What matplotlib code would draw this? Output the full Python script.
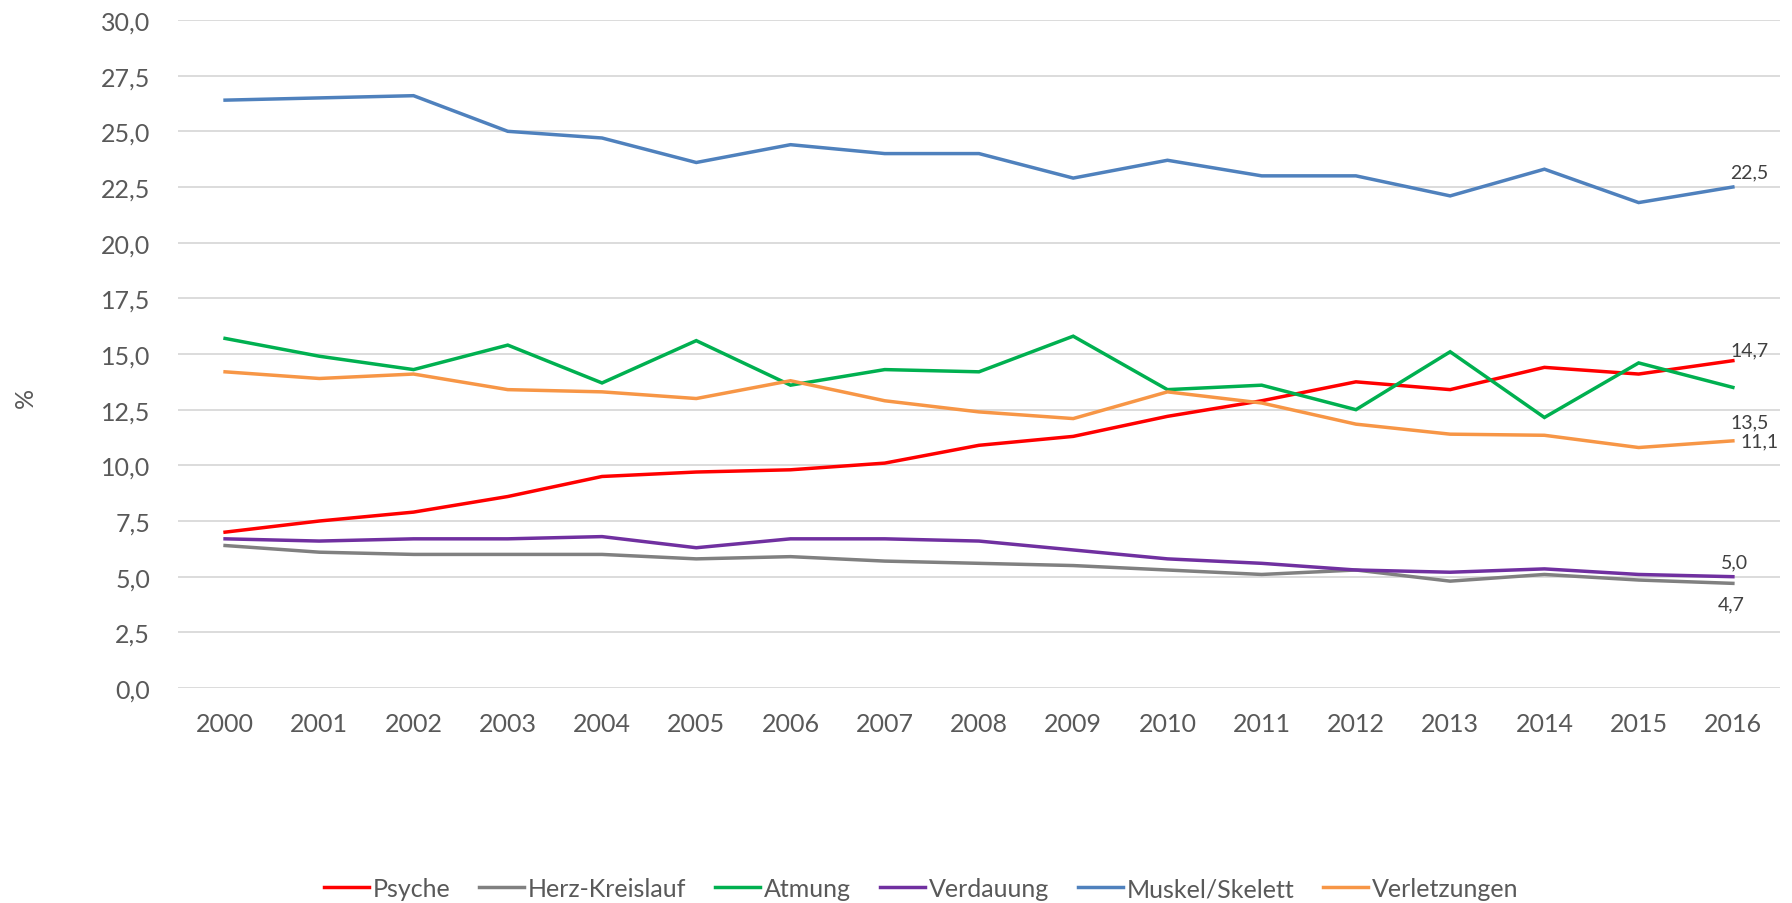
import matplotlib.pyplot as plt

years = [str(y) for y in range(2000, 2017)]
psyche = [7.0, 7.5, 7.9, 8.6, 9.5, 9.7, 9.8, 10.1, 10.9, 11.3, 12.2, 12.9, 13.75, 13.4, 14.4, 14.1, 14.7]
herz = [6.4, 6.1, 6.0, 6.0, 6.0, 5.8, 5.9, 5.7, 5.6, 5.5, 5.3, 5.1, 5.3, 4.8, 5.1, 4.85, 4.7]
atmung = [15.7, 14.9, 14.3, 15.4, 13.7, 15.6, 13.6, 14.3, 14.2, 15.8, 13.4, 13.6, 12.5, 15.1, 12.15, 14.6, 13.5]
verdauung = [6.7, 6.6, 6.7, 6.7, 6.8, 6.3, 6.7, 6.7, 6.6, 6.2, 5.8, 5.6, 5.3, 5.2, 5.35, 5.1, 5.0]
muskel = [26.4, 26.5, 26.6, 25.0, 24.7, 23.6, 24.4, 24.0, 24.0, 22.9, 23.7, 23.0, 23.0, 22.1, 23.3, 21.8, 22.5]
verletzungen = [14.2, 13.9, 14.1, 13.4, 13.3, 13.0, 13.8, 12.9, 12.4, 12.1, 13.3, 12.8, 11.85, 11.4, 11.35, 10.8, 11.1]

names = ['Psyche', 'Herz-Kreislauf', 'Atmung', 'Verdauung', 'Muskel/Skelett', 'Verletzungen']
colors = ['#FF0000', '#808080', '#00B050', '#7030A0', '#4F81BD', '#F79646']
series = [psyche, herz, atmung, verdauung, muskel, verletzungen]
# end label offsets (points) for the 2016 values
offsets = [(12, 8), (-1, -15), (12, -25), (1, 11), (12, 11), (19, 0)]

plt.rcParams['font.family'] = ['Lato', 'DejaVu Sans']
txt = '#595959'

fig = plt.figure(figsize=(17.92, 9.04), dpi=100)
ax = fig.add_axes([0.0993, 0.2378, 0.894, 0.739])

x = list(range(len(years)))
for vals, name, c, off in zip(series, names, colors, offsets):
    ax.plot(x, vals, color=c, lw=2.5, label=name, solid_joinstyle='miter')
    ax.annotate(f'{vals[-1]:.1f}'.replace('.', ','), (x[-1], vals[-1]),
                xytext=off, textcoords='offset points', ha='center', va='center',
                fontsize=14, color='#404040')

ax.set_xlim(-0.5, len(years) - 0.5)
ax.set_ylim(0, 30)
ax.set_yticks([i * 2.5 for i in range(13)])
ax.set_yticklabels([f'{i * 2.5:.1f}'.replace('.', ',') for i in range(13)])
ax.set_xticks(x)
ax.set_xticklabels(years)
ax.tick_params(length=0, labelsize=18, colors=txt, pad=17)
ax.tick_params(axis='y', pad=20)
ax.grid(axis='y', color='#D9D9D9', lw=1.3)
ax.set_axisbelow(True)
for s in ax.spines.values():
    s.set_visible(False)
fig.text(0.014, 0.56, '%', rotation=90, fontsize=18, color=txt, va='center', ha='center')

leg = fig.legend(loc='center', bbox_to_anchor=(0.514, 0.016), ncol=6, frameon=False,
                 fontsize=18, handlelength=1.8, handletextpad=0.15, columnspacing=1.15)
for t in leg.get_texts():
    t.set_color(txt)

fig.savefig('out.png', dpi=100)
